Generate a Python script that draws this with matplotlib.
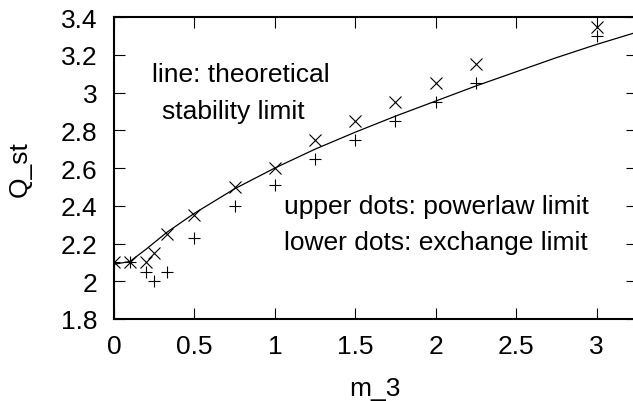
import matplotlib

matplotlib.use("Agg")
import matplotlib.pyplot as plt
from matplotlib.ticker import FormatStrFormatter, MultipleLocator

plt.rcParams["font.family"] = ["Liberation Sans", "DejaVu Sans"]

# powerlaw limit (upper dots, "x")
m3_upper = [0, 0.1, 0.2, 0.25, 0.33, 0.5, 0.75, 1.0, 1.25, 1.5, 1.75, 2.0, 2.25, 3.0]
q_upper = [2.1, 2.1, 2.1, 2.15, 2.25, 2.35, 2.5, 2.6, 2.75, 2.85, 2.95, 3.05, 3.15, 3.35]

# exchange limit (lower dots, "+")
m3_lower = [0, 0.1, 0.2, 0.25, 0.33, 0.5, 0.75, 1.0, 1.25, 1.5, 1.75, 2.0, 2.25, 3.0]
q_lower = [2.1, 2.1, 2.05, 2.0, 2.05, 2.23, 2.4, 2.51, 2.65, 2.75, 2.85, 2.95, 3.05, 3.3]

# theoretical stability limit (line)
m3_theory = [0, 0.1, 0.2, 0.33, 0.5, 0.75, 1.0, 1.25, 1.5, 1.75, 2.0, 2.25, 2.5, 2.75, 3.0, 3.25]
q_theory = [2.09, 2.105, 2.17, 2.26, 2.36, 2.49, 2.6, 2.7, 2.79, 2.875, 2.955, 3.035, 3.11, 3.185, 3.255, 3.32]

FS = 19

fig = plt.figure(figsize=(6.33, 4.02), dpi=100)
ax = fig.add_axes([0.180, 0.204, 0.826, 0.751])

ax.plot(m3_theory, q_theory, color="black", linewidth=0.9)
ax.plot(m3_upper, q_upper, linestyle="none", marker="x", markersize=9,
        markeredgewidth=0.8, color="black")
ax.plot(m3_lower, q_lower, linestyle="none", marker="+", markersize=9,
        markeredgewidth=0.8, color="black")

ax.set_xlim(0, 3.25)
ax.set_ylim(1.8, 3.4)
ax.xaxis.set_major_locator(MultipleLocator(0.5))
ax.yaxis.set_major_locator(MultipleLocator(0.2))
ax.xaxis.set_major_formatter(FormatStrFormatter("%g"))
ax.yaxis.set_major_formatter(FormatStrFormatter("%g"))
ax.tick_params(direction="in", length=8, width=0.8, labelsize=FS,
               top=True, right=True)
ax.tick_params(axis="x", pad=11)
ax.tick_params(axis="y", pad=12)
for s in ax.spines.values():
    s.set_linewidth(1.5)

ax.set_xlabel("m_3", fontsize=FS, labelpad=13)
ax.set_ylabel("Q_st", fontsize=FS, labelpad=21)

ax.text(0.235, 3.098, "line: theoretical", fontsize=FS, va="center", ha="left")
ax.text(0.297, 2.902, "stability limit", fontsize=FS, va="center", ha="left")
ax.text(1.06, 2.40, "upper dots: powerlaw limit", fontsize=FS, va="center", ha="left")
ax.text(1.06, 2.206, "lower dots: exchange limit", fontsize=FS, va="center", ha="left")

fig.savefig("out.png", dpi=100)
